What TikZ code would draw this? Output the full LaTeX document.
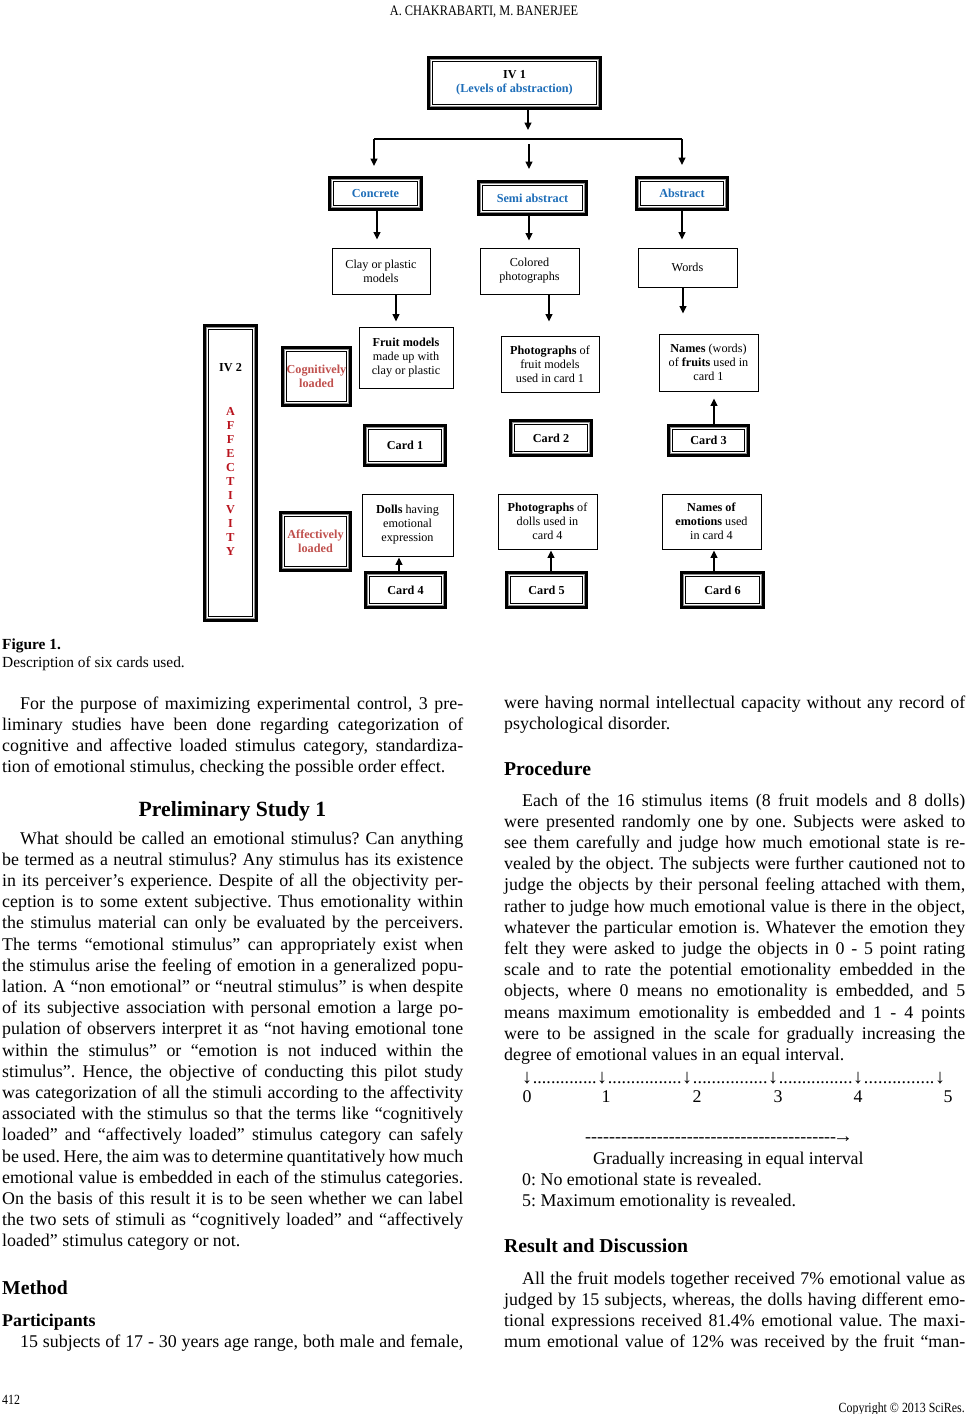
\documentclass[tikz,border=0pt]{standalone}
\usepackage{fontspec}
\setmainfont{Liberation Serif}
\usetikzlibrary{arrows.meta}
\definecolor{dblue}{RGB}{30,110,185}
\definecolor{lred}{RGB}{192,80,77}
\definecolor{dred}{RGB}{185,20,30}
\frenchspacing
\newcommand\jl[1]{\makebox[\linewidth][s]{#1}}
\newcommand\bodyfont{\fontsize{17.9}{21.2}\selectfont}
\newcommand\capfont{\fontsize{15.4}{18}\selectfont}
\newcommand\headfont{\fontsize{19.7}{22}\selectfont\bfseries}
\newcommand\diafont{\fontsize{12.2}{14}\selectfont}
\newcommand\innerfr[1]{%
  \draw[black!45, line width=1pt] ([xshift=3.6pt,yshift=-3.6pt]#1.north west) rectangle ([xshift=-3.6pt,yshift=3.6pt]#1.south east);
  \draw[black, line width=0.8pt] ([xshift=5.2pt,yshift=-5.2pt]#1.north west) rectangle ([xshift=-5.2pt,yshift=5.2pt]#1.south east);}
\tikzset{
  fr/.style={draw, line width=4pt, inner sep=0pt, align=center, font=\diafont\bfseries},
  tb/.style={draw, line width=0.9pt, inner sep=0pt, align=center, font=\diafont},
  ar/.style={line width=1.4pt, -{Triangle[width=7pt,length=7.5pt]}},
  txt/.style={anchor=base west, inner sep=0pt, font=\bodyfont},
}
\begin{document}
\begin{tikzpicture}[x=1pt,y=-1pt]
\useasboundingbox[fill=white] (0,0) rectangle (968,1414);

% header / footer
\node[anchor=base, inner sep=0pt, font=\fontsize{14.5}{16}\selectfont] (hdr) at (484,15) {\scalebox{0.85}[1]{A. CHAKRABARTI, M. BANERJEE}};
\node[anchor=base west, inner sep=0pt, font=\fontsize{14}{16}\selectfont] (pg) at (2,1404) {\scalebox{0.85}[1]{412}};
\node[anchor=base east, inner sep=0pt, font=\fontsize{14}{16}\selectfont] (cr) at (965,1412) {\scalebox{0.85}[1]{Copyright © 2013 SciRes.}};

% ---------- diagram ----------
\node[fr, minimum width=171pt, minimum height=50pt] (iv1) at (514.5,83) {IV 1\\\textcolor{dblue}{(Levels of abstraction)}};
\innerfr{iv1}
\node[fr, minimum width=91pt, minimum height=31pt, text=dblue] (conc) at (375.5,193.5) {Concrete};
\innerfr{conc}
\node[fr, minimum width=107pt, minimum height=32pt, text=dblue] (semi) at (532.5,198) {Semi abstract};
\innerfr{semi}
\node[fr, minimum width=90pt, minimum height=31pt, text=dblue] (abs) at (682,193.5) {Abstract};
\innerfr{abs}

\node[fr, minimum width=51pt, minimum height=294pt] (iv2) at (230.5,473) {};
\innerfr{iv2}
\node[font=\diafont\bfseries, inner sep=0pt] (iv2t) at (230.5,368) {IV 2};
\node[font=\diafont\bfseries, text=dred, align=center, inner sep=0pt] (aff) at (230.5,481) {A\\F\\F\\E\\C\\T\\I\\V\\I\\T\\Y};

\node[fr, minimum width=67pt, minimum height=57pt, text=lred] (cog) at (316.5,376.5) {Cognitively\\loaded};
\innerfr{cog}
\node[fr, minimum width=69pt, minimum height=57pt, text=lred] (affl) at (315.5,541.5) {Affectively\\loaded};
\innerfr{affl}

\node[fr, minimum width=80pt, minimum height=39pt] (card1) at (405,445.5) {Card 1};
\innerfr{card1}
\node[fr, minimum width=80pt, minimum height=34pt] (card2) at (551,438) {Card 2};
\innerfr{card2}
\node[fr, minimum width=79pt, minimum height=29pt] (card3) at (708.5,440.5) {Card 3};
\innerfr{card3}
\node[fr, minimum width=79pt, minimum height=34pt] (card4) at (405.5,590) {Card 4};
\innerfr{card4}
\node[fr, minimum width=79pt, minimum height=34pt] (card5) at (546.5,590) {Card 5};
\innerfr{card5}
\node[fr, minimum width=81pt, minimum height=34pt] (card6) at (722.5,590) {Card 6};
\innerfr{card6}

\node[tb, minimum width=98pt, minimum height=46pt] (clay) at (381,271) {Clay or plastic\\models};
\node[tb, minimum width=99pt, minimum height=46pt] (col) at (529.5,271) {Colored\\photographs};
\node[tb, minimum width=99pt, minimum height=39pt] (words) at (687.5,267.5) {Words};
\node[tb, minimum width=94pt, minimum height=61pt] (fruit) at (406,357.5) {\textbf{Fruit models}\\made up with\\clay or plastic};
\node[tb, minimum width=98pt, minimum height=56pt] (ph1) at (550,364) {\textbf{Photographs} of\\fruit models\\used in card 1};
\node[tb, minimum width=99pt, minimum height=57pt] (nm1) at (708.5,362.5) {\textbf{Names} (words)\\of \textbf{fruits} used in\\card 1};
\node[tb, minimum width=91pt, minimum height=62pt] (dolls) at (407.5,525) {\textbf{Dolls} having\\emotional\\expression};
\node[tb, minimum width=99pt, minimum height=55pt] (ph4) at (547.5,521.5) {\textbf{Photographs} of\\dolls used in\\card 4};
\node[tb, minimum width=99pt, minimum height=55pt] (nm4) at (711.5,521.5) {\textbf{Names of}\\\textbf{emotions} used\\in card 4};

% connectors
\coordinate (a0) at (528,130);
\coordinate (tl) at (374,139);
\coordinate (tr) at (682,139);
\coordinate (tm) at (529,144);
\draw[ar] (iv1.south -| a0) -- (a0);
\draw[line width=1.2pt] (tl) -- (tr);
\draw[ar, shorten >=10pt] (tl) -- (tl |- conc.north);
\draw[ar, shorten >=11pt] (tm) -- (tm |- semi.north);
\draw[ar, shorten >=11pt] (tr) -- (tr |- abs.north);
\draw[ar, shorten >=8pt] ([xshift=1.5pt]conc.south) -- ([xshift=1.5pt]conc.south |- clay.north);
\draw[ar, shorten >=7pt] ([xshift=-3.5pt]semi.south) -- ([xshift=-3.5pt]semi.south |- col.north);
\draw[ar, shorten >=8pt] (abs.south) -- (abs.south |- words.north);
\draw[ar, shorten >=5pt] ([xshift=15pt]clay.south) -- ([xshift=15pt]clay.south |- fruit.north);
\draw[ar, shorten >=14pt] ([xshift=19.5pt]col.south) -- ([xshift=19.5pt]col.south |- ph1.north);
\draw[ar, shorten >=20pt] ([xshift=-4.5pt]words.south) -- ([xshift=-4.5pt]words.south |- nm1.north);
\draw[ar, shorten >=7pt] ([xshift=5.5pt]card3.north) -- ([xshift=5.5pt]card3.north |- nm1.south);
\draw[ar, shorten >=1pt] ([xshift=-6.5pt]card4.north) -- ([xshift=-6.5pt]card4.north |- dolls.south);
\draw[ar, shorten >=1pt] ([xshift=4.5pt]card5.north) -- ([xshift=4.5pt]card5.north |- ph4.south);
\draw[ar, shorten >=1pt] ([xshift=-8.5pt]card6.north) -- ([xshift=-8.5pt]card6.north |- nm4.south);

% ---------- caption ----------
\node[anchor=base west, inner sep=0pt, font=\capfont\bfseries] (figl) at (2,649) {Figure 1.};
\node[anchor=base west, inner sep=0pt, font=\capfont] (figc) at (2,667) {Description of six cards used.};

% ---------- left column ----------
\node[txt] (lp1) at (2,709) {\parbox[t]{461pt}{\bodyfont
\jl{\hspace*{18pt}For the purpose of maximizing experimental control, 3 pre-}\\
\jl{liminary studies have been done regarding categorization of}\\
\jl{cognitive and affective loaded stimulus category, standardiza-}\\
tion of emotional stimulus, checking the possible order effect.}};

\node[anchor=base, inner sep=0pt, font=\fontsize{21.7}{24}\selectfont\bfseries] (h1) at (232.5,816) {Preliminary Study 1};

\node[txt] (lp2) at (2,844) {\parbox[t]{461pt}{\bodyfont
\jl{\hspace*{18pt}What should be called an emotional stimulus? Can anything}\\
\jl{be termed as a neutral stimulus? Any stimulus has its existence}\\
\jl{in its perceiver’s experience. Despite of all the objectivity per-}\\
\jl{ception is to some extent subjective. Thus emotionality within}\\
\jl{the stimulus material can only be evaluated by the perceivers.}\\
\jl{The terms “emotional stimulus” can appropriately exist when}\\
\jl{the stimulus arise the feeling of emotion in a generalized popu-}\\
\jl{lation. A “non emotional” or “neutral stimulus” is when despite}\\
\jl{of its subjective association with personal emotion a large po-}\\
\jl{pulation of observers interpret it as “not having emotional tone}\\
\jl{within the stimulus” or “emotion is not induced within the}\\
\jl{stimulus”. Hence, the objective of conducting this pilot study}\\
\jl{was categorization of all the stimuli according to the affectivity}\\
\jl{associated with the stimulus so that the terms like “cognitively}\\
\jl{loaded” and “affectively loaded” stimulus category can safely}\\
\jl{be used. Here, the aim was to determine quantitatively how much}\\
\jl{emotional value is embedded in each of the stimulus categories.}\\
\jl{On the basis of this result it is to be seen whether we can label}\\
\jl{the two sets of stimuli as “cognitively loaded” and “affectively}\\
loaded” stimulus category or not.}};

\node[anchor=base west, inner sep=0pt, font=\headfont] (h2) at (2,1294) {Method};
\node[anchor=base west, inner sep=0pt, font=\bodyfont\bfseries] (h3) at (2,1326) {Participants};
\node[txt] (lp3) at (2,1347) {\parbox[t]{461pt}{\bodyfont
\jl{\hspace*{18pt}15 subjects of 17 - 30 years age range, both male and female,}}};

% ---------- right column ----------
\node[txt] (rp0) at (504,708) {\parbox[t]{461pt}{\bodyfont
\jl{were having normal intellectual capacity without any record of}\\
psychological disorder.}};

\node[anchor=base west, inner sep=0pt, font=\headfont] (h4) at (504,775) {Procedure};

\node[txt] (rp1) at (504,806) {\parbox[t]{461pt}{\bodyfont
\jl{\hspace*{18pt}Each of the 16 stimulus items (8 fruit models and 8 dolls)}\\
\jl{were presented randomly one by one. Subjects were asked to}\\
\jl{see them carefully and judge how much emotional state is re-}\\
\jl{vealed by the object. The subjects were further cautioned not to}\\
\jl{judge the objects by their personal feeling attached with them,}\\
\jl{rather to judge how much emotional value is there in the object,}\\
\jl{whatever the particular emotion is. Whatever the emotion they}\\
\jl{felt they were asked to judge the objects in 0 - 5 point rating}\\
\jl{scale and to rate the potential emotionality embedded in the}\\
\jl{objects, where 0 means no emotionality is embedded, and 5}\\
\jl{means maximum emotionality is embedded and 1 - 4 points}\\
\jl{were to be assigned in the scale for gradually increasing the}\\
degree of emotional values in an equal interval.}};

% rating scale
\foreach \x in {527,602,687,773,858,940}
  \node[anchor=base, inner sep=0pt, font=\fontsize{20}{21}\selectfont] (dn\x) at (\x,1083) {↓};
\foreach \a/\b in {527/602,602/687,687/773,773/858,858/940}{
  \pgfmathsetmacro\w{\b-\a-11}
  \node[anchor=base west, inner sep=0pt, font=\bodyfont] (dt\a) at (\a+5.5,1083) {\hbox to \w pt{\xleaders\hbox{.}\hfill}};
}
\foreach \x/\n in {527/0,606/1,697/2,778/3,858/4,948/5}
  \node[anchor=base, inner sep=0pt, font=\bodyfont] (num\n) at (\x,1102) {\n};
\node[txt] (dash) at (585,1142.5) {\hbox to 251pt{\xleaders\hbox{-}\hfill}\kern-3pt{\fontsize{20}{21}\selectfont →}};
\node[txt] (grad) at (593,1164) {Gradually increasing in equal interval};
\node[txt] (s0) at (522,1185.5) {0: No emotional state is revealed.};
\node[txt] (s5) at (522,1206.5) {5: Maximum emotionality is revealed.};

\node[anchor=base west, inner sep=0pt, font=\headfont] (h5) at (504,1252) {Result and Discussion};

\node[txt] (rp2) at (504,1284) {\parbox[t]{461pt}{\bodyfont
\jl{\hspace*{18pt}All the fruit models together received 7\% emotional value as}\\
\jl{judged by 15 subjects, whereas, the dolls having different emo-}\\
\jl{tional expressions received 81.4\% emotional value. The maxi-}\\
\jl{mum emotional value of 12\% was received by the fruit “man-}}};
\end{tikzpicture}
\end{document}
